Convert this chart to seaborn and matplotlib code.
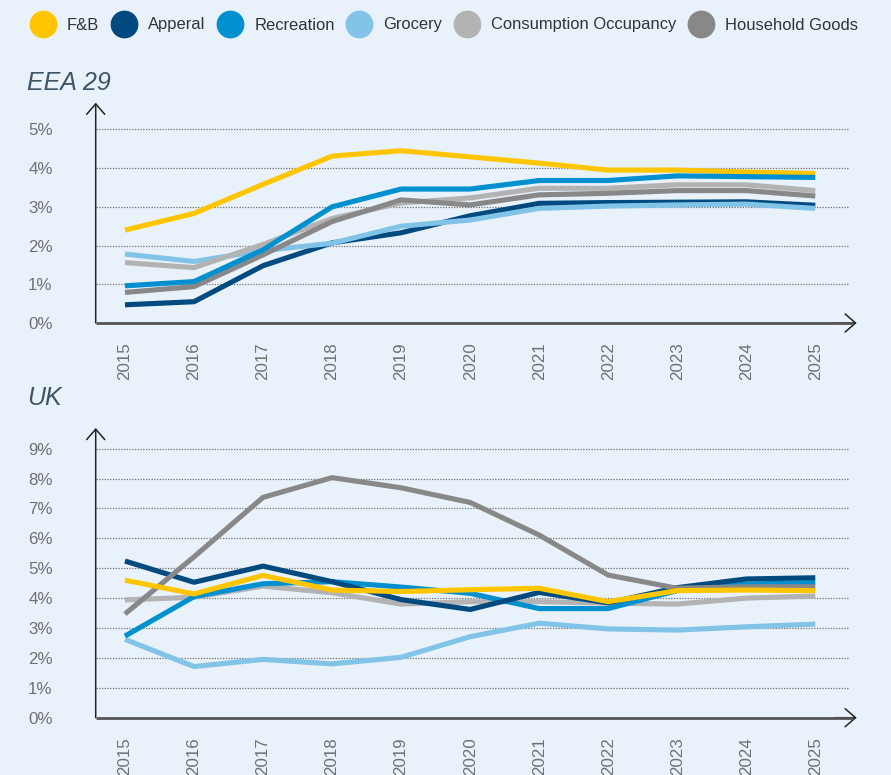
import matplotlib
matplotlib.use("Agg")
import matplotlib.pyplot as plt
import seaborn as sns
import pandas as pd
from matplotlib.lines import Line2D
from matplotlib import font_manager

# ---------------- data ----------------
years = list(range(2015, 2026))
year_labels = [str(y) for y in years]
categories = ["F&B", "Apperal", "Recreation", "Grocery", "Consumption Occupancy", "Household Goods"]
colors = ["#FFC600", "#004A80", "#0090D0", "#82C3E8", "#B3B3B3", "#888888"]

eea_fb = [2.40, 2.83, 3.58, 4.31, 4.45, 4.29, 4.13, 3.95, 3.95, 3.90, 3.86]
eea_apperal = [0.47, 0.55, 1.48, 2.07, 2.33, 2.77, 3.09, 3.11, 3.12, 3.13, 3.04]
eea_recreation = [0.96, 1.07, 1.89, 3.00, 3.46, 3.46, 3.68, 3.68, 3.80, 3.78, 3.76]
eea_grocery = [1.78, 1.59, 1.87, 2.06, 2.50, 2.66, 2.96, 3.02, 3.05, 3.07, 2.96]
eea_consumption = [1.56, 1.43, 2.03, 2.70, 3.10, 3.23, 3.48, 3.48, 3.57, 3.57, 3.42]
eea_household = [0.79, 0.94, 1.76, 2.62, 3.18, 3.05, 3.31, 3.35, 3.42, 3.42, 3.28]

uk_fb = [4.60, 4.14, 4.76, 4.27, 4.22, 4.28, 4.33, 3.88, 4.25, 4.27, 4.25]
uk_apperal = [5.24, 4.53, 5.07, 4.55, 3.95, 3.62, 4.19, 3.84, 4.35, 4.64, 4.68]
uk_recreation = [2.73, 4.05, 4.48, 4.55, 4.37, 4.16, 3.65, 3.65, 4.25, 4.47, 4.52]
uk_grocery = [2.62, 1.71, 1.95, 1.80, 2.02, 2.71, 3.16, 2.97, 2.93, 3.04, 3.13]
uk_consumption = [3.94, 4.03, 4.40, 4.18, 3.80, 3.88, 3.88, 3.83, 3.80, 4.00, 4.07]
uk_household = [3.47, 5.38, 7.37, 8.03, 7.69, 7.20, 6.11, 4.77, 4.33, 4.38, 4.38]

eea_ticks = [0, 1, 2, 3, 4, 5]
uk_ticks = [0, 1, 2, 3, 4, 5, 6, 7, 8, 9]

# ---------------- styling ----------------
sns.set_style("white")
avail = {f.name for f in font_manager.fontManager.ttflist}
narrow = "Liberation Sans Narrow" if "Liberation Sans Narrow" in avail else "Liberation Sans"
scale = 1.0 if narrow == "Liberation Sans Narrow" else 0.85
plt.rcParams["font.family"] = [narrow, "DejaVu Sans"]

bg = "#E9F2FB"
tick_color = "#707070"
palette = dict(zip(categories, colors))


def make_df(vals):
    rows = []
    for cat, series in zip(categories, vals):
        for y, v in zip(years, series):
            rows.append({"Year": y, "Value": v, "Category": cat})
    return pd.DataFrame(rows)


df_eea = make_df([eea_fb, eea_apperal, eea_recreation, eea_grocery, eea_consumption, eea_household])
df_uk = make_df([uk_fb, uk_apperal, uk_recreation, uk_grocery, uk_consumption, uk_household])

fig = plt.figure(figsize=(8.91, 7.75), dpi=100)
fig.patch.set_facecolor(bg)

W, H = 891.0, 775.0
x_left = 95.7
x_right = 856.7
ax_top = fig.add_axes([x_left / W, 1 - 323 / H, (x_right - x_left) / W, (323 - 102.7) / H])
ax_bot = fig.add_axes([x_left / W, 1 - 717.7 / H, (x_right - x_left) / W, (717.7 - 428) / H])

xmin, xmax = 2014.576, 2025.6
grid_end = 2025.49


def style_axis(ax, df, ticks, ytop, order):
    ax.set_facecolor("none")
    for cat in order:
        sub = df[df["Category"] == cat]
        sns.lineplot(data=sub, x="Year", y="Value", color=palette[cat], linewidth=3.7,
                     ax=ax, legend=False, solid_capstyle="butt", zorder=3)
    ax.set_xlim(xmin, xmax)
    ax.set_ylim(0, ytop)
    for s in ax.spines.values():
        s.set_visible(False)
    ax.hlines(ticks[1:], xmin, grid_end, colors="#707070", linewidth=0.9,
              linestyles=(0, (1, 1.2)), zorder=1)
    ax.set_yticks(ticks)
    ax.set_yticklabels([f"{t}%" for t in ticks])
    ax.set_xticks(years)
    ax.set_xticklabels(year_labels, rotation=90)
    ax.tick_params(axis="y", length=0, pad=31, labelsize=14.3 * scale, labelcolor=tick_color)
    ax.tick_params(axis="x", length=0, pad=14, labelsize=14.3 * scale, labelcolor=tick_color)
    ax.set_xlabel("")
    ax.set_ylabel("")
    # x axis line
    ax.plot([0, 0.995], [0, 0], transform=ax.transAxes, color="#555555", lw=2.0,
            clip_on=False, zorder=4, solid_capstyle="butt")
    ax.annotate("", xy=(1, 0), xytext=(0.97, 0), xycoords="axes fraction",
                arrowprops=dict(arrowstyle="->,head_length=0.75,head_width=0.65", color="#222222",
                                lw=1.1, shrinkA=0, shrinkB=0, mutation_scale=10),
                annotation_clip=False)
    # y axis with arrow
    ax.annotate("", xy=(0, 1), xytext=(0, 0), xycoords="axes fraction",
                arrowprops=dict(arrowstyle="->,head_length=0.75,head_width=0.65", color="#222222",
                                lw=1.1, shrinkA=0, shrinkB=0, mutation_scale=10),
                annotation_clip=False)


order_top = ["F&B", "Apperal", "Grocery", "Consumption Occupancy", "Household Goods", "Recreation"]
order_bot = ["Grocery", "Consumption Occupancy", "Recreation", "Apperal", "Household Goods", "F&B"]
style_axis(ax_top, df_eea, eea_ticks, 5.69, order_top)
style_axis(ax_bot, df_uk, uk_ticks, 9.69, order_bot)

title_kw = dict(style="italic", color="#3F5466", fontsize=18, va="center", ha="left",
                family=["Liberation Sans", "DejaVu Sans"])
fig.text(27 / W, 1 - 83 / H, "EEA 29", **title_kw)
fig.text(27 / W, 1 - 398 / H, "UK", **title_kw)

handles = [Line2D([], [], marker="o", ls="", markersize=20, color=c, markeredgewidth=0)
           for c in colors]
fig.legend(handles, categories, loc="center left", bbox_to_anchor=(31.5 / W, 1 - 25 / H),
           ncol=6, frameon=False, handlelength=1.4, handletextpad=0.75, columnspacing=0.8,
           borderpad=0, borderaxespad=0, prop={"size": 14 * scale}, labelcolor="#333333")

fig.savefig("out.png", dpi=100, facecolor=bg)
